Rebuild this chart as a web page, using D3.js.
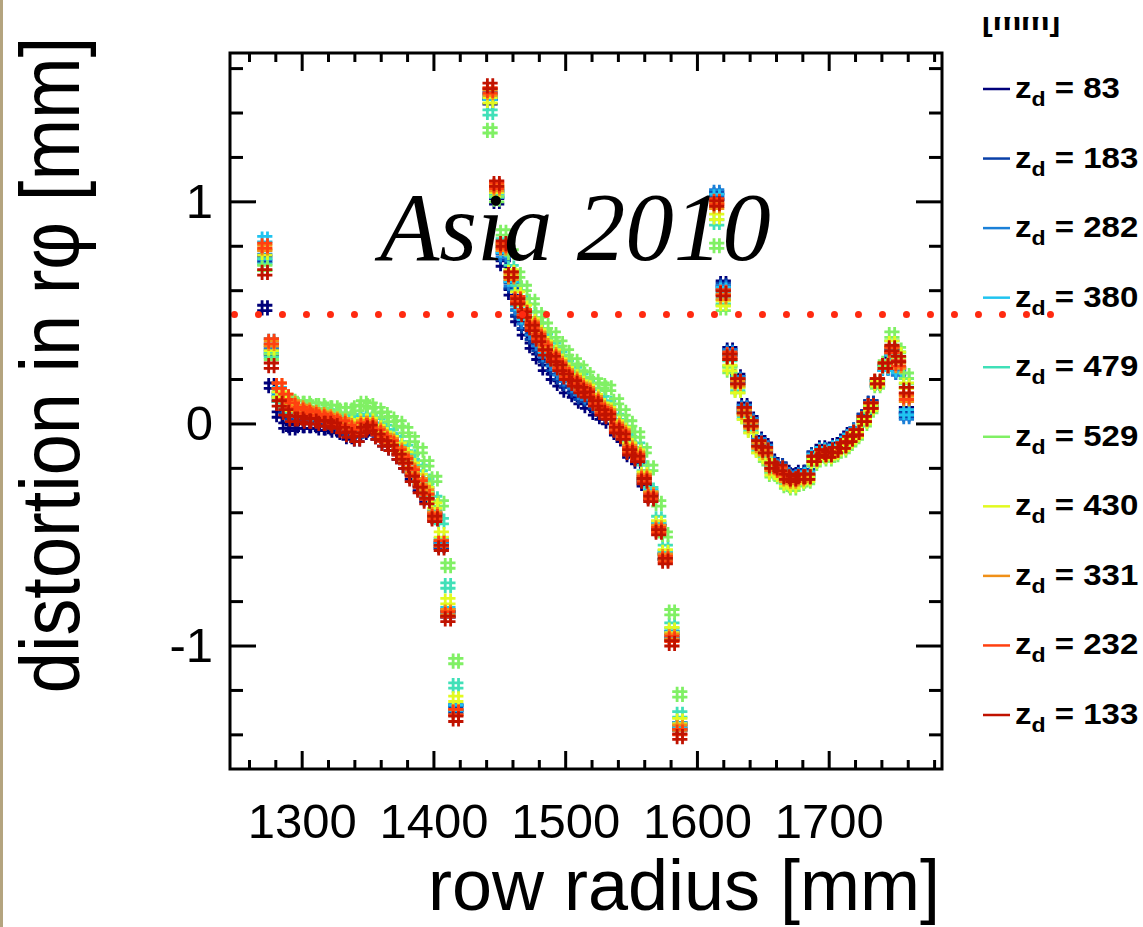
<!DOCTYPE html>
<html><head><meta charset="utf-8">
<script src="https://cdn.jsdelivr.net/npm/d3@7"></script>
<style>
html,body{margin:0;padding:0;background:#fff;}
svg{display:block;}
</style></head>
<body>
<svg id="chart" width="1143" height="927"></svg>
<script>
// ---------- data ----------
const zdLabels = [83, 183, 282, 380, 479, 529, 430, 331, 232, 133];
const seriesColors = ["#00007a", "#0a40a8", "#1a80d8", "#20c4f0", "#40e0b8", "#80f064", "#e2fa20", "#f09018", "#ff4010", "#c01200"];
const radii = [
 1272,1277,1283,1288,1293,1299,1304,1309,1315,1320,1325,1331,1336,1342,1347,1352,1358,1363,1368,1374,1379,1384,1390,1395,1401,1406,1411,1417,
 1443,1448,1453,1459,1464,1469,1475,1480,1485,1491,1496,1501,1507,1512,1517,1523,1528,1533,1539,1544,1549,1555,1560,1565,1571,1576,1581,1587,
 1615,1620,1625,1631,1636,1641,1647,1652,1657,1663,1668,1673,1679,1684,1689,1695,1700,1705,1711,1716,1721,1727,1732,1737,1743,1748,1753,1759];
const d83 = [
 0.52,0.17,0.04,-0.01,-0.02,-0.01,-0.01,-0.01,-0.02,-0.02,-0.03,-0.04,-0.06,-0.07,-0.04,-0.03,-0.06,-0.09,-0.11,-0.15,-0.19,-0.24,-0.29,-0.34,-0.42,-0.55,-0.86,-1.28,
 1.45,1.00,0.72,0.59,0.47,0.41,0.35,0.30,0.25,0.21,0.18,0.15,0.13,0.10,0.08,0.05,0.03,0.01,-0.04,-0.07,-0.14,-0.17,-0.27,-0.33,-0.47,-0.60,-0.95,-1.36,
 1.02,0.63,0.33,0.21,0.08,0.02,-0.07,-0.10,-0.17,-0.19,-0.22,-0.23,-0.22,-0.22,-0.14,-0.11,-0.12,-0.10,-0.08,-0.05,-0.03,0.03,0.09,0.18,0.25,0.31,0.24,0.06];
const d183 = [
 0.74,0.32,0.11,0.06,0.03,0.02,0.02,0.01,0.01,0.00,-0.01,-0.02,-0.04,-0.05,-0.02,-0.01,-0.04,-0.07,-0.09,-0.13,-0.17,-0.22,-0.27,-0.33,-0.42,-0.55,-0.86,-1.29,
 1.47,1.03,0.75,0.62,0.50,0.44,0.39,0.34,0.29,0.25,0.21,0.18,0.15,0.12,0.11,0.08,0.05,0.03,-0.03,-0.06,-0.13,-0.16,-0.26,-0.33,-0.47,-0.60,-0.96,-1.37,
 1.03,0.62,0.32,0.20,0.07,0.01,-0.08,-0.11,-0.18,-0.19,-0.23,-0.24,-0.23,-0.22,-0.14,-0.12,-0.13,-0.11,-0.09,-0.06,-0.03,0.03,0.09,0.18,0.25,0.32,0.23,0.04];
const d282 = [
 0.75,0.33,0.12,0.08,0.05,0.04,0.04,0.03,0.02,0.02,0.01,0.00,-0.02,-0.03,-0.01,0.00,-0.03,-0.06,-0.08,-0.12,-0.16,-0.21,-0.26,-0.32,-0.41,-0.54,-0.85,-1.28,
 1.48,1.04,0.76,0.63,0.52,0.46,0.41,0.36,0.31,0.27,0.23,0.20,0.17,0.14,0.12,0.09,0.06,0.04,-0.02,-0.05,-0.12,-0.15,-0.25,-0.32,-0.47,-0.60,-0.96,-1.37,
 1.04,0.61,0.32,0.20,0.07,0.01,-0.08,-0.11,-0.18,-0.20,-0.23,-0.24,-0.23,-0.23,-0.15,-0.12,-0.13,-0.11,-0.09,-0.06,-0.03,0.02,0.08,0.18,0.25,0.32,0.23,0.03];
const d380 = [
 0.83,0.37,0.15,0.11,0.08,0.07,0.06,0.05,0.05,0.04,0.03,0.02,0.01,0.00,0.02,0.02,-0.01,-0.04,-0.06,-0.10,-0.14,-0.19,-0.24,-0.30,-0.40,-0.53,-0.84,-1.28,
 1.47,1.04,0.78,0.65,0.54,0.48,0.43,0.38,0.33,0.29,0.25,0.22,0.19,0.16,0.14,0.10,0.07,0.05,-0.01,-0.04,-0.11,-0.14,-0.24,-0.31,-0.46,-0.59,-0.95,-1.36,
 1.02,0.60,0.31,0.19,0.06,0.00,-0.09,-0.12,-0.19,-0.20,-0.24,-0.25,-0.24,-0.23,-0.15,-0.12,-0.13,-0.11,-0.09,-0.06,-0.04,0.02,0.08,0.18,0.25,0.32,0.24,0.05];
const d479 = [
 0.73,0.31,0.11,0.08,0.06,0.06,0.06,0.05,0.05,0.05,0.04,0.03,0.02,0.01,0.03,0.03,0.01,-0.02,-0.04,-0.07,-0.11,-0.15,-0.20,-0.26,-0.34,-0.44,-0.73,-1.18,
 1.40,1.03,0.82,0.70,0.61,0.55,0.49,0.44,0.39,0.35,0.31,0.27,0.24,0.21,0.18,0.14,0.11,0.09,0.03,0.00,-0.07,-0.10,-0.20,-0.30,-0.43,-0.56,-0.91,-1.31,
 0.905,0.55,0.27,0.16,0.04,-0.02,-0.11,-0.14,-0.21,-0.22,-0.26,-0.27,-0.26,-0.25,-0.17,-0.14,-0.15,-0.13,-0.11,-0.08,-0.05,0.01,0.07,0.18,0.26,0.36,0.31,0.19];
const d529 = [
 0.70,0.30,0.13,0.11,0.10,0.09,0.09,0.08,0.08,0.07,0.07,0.06,0.06,0.07,0.09,0.08,0.06,0.04,0.02,0.00,-0.03,-0.07,-0.12,-0.18,-0.25,-0.36,-0.64,-1.07,
 1.32,1.01,0.86,0.77,0.67,0.61,0.55,0.49,0.44,0.40,0.36,0.32,0.28,0.25,0.22,0.19,0.17,0.16,0.10,0.05,0.00,-0.05,-0.12,-0.20,-0.36,-0.50,-0.85,-1.22,
 0.80,0.52,0.24,0.15,0.03,-0.03,-0.12,-0.16,-0.23,-0.24,-0.28,-0.29,-0.27,-0.26,-0.18,-0.15,-0.16,-0.14,-0.12,-0.09,-0.06,0.00,0.06,0.17,0.27,0.40,0.33,0.215];
const d430 = [
 0.77,0.34,0.13,0.09,0.07,0.06,0.05,0.04,0.04,0.03,0.02,0.01,0.00,-0.01,0.01,0.01,-0.02,-0.05,-0.07,-0.10,-0.14,-0.19,-0.24,-0.30,-0.37,-0.50,-0.80,-1.24,
 1.455,1.05,0.80,0.68,0.58,0.52,0.46,0.41,0.36,0.32,0.28,0.24,0.21,0.18,0.16,0.12,0.08,0.06,0.00,-0.03,-0.10,-0.13,-0.23,-0.32,-0.45,-0.58,-0.93,-1.34,
 0.93,0.54,0.25,0.15,0.03,-0.03,-0.12,-0.15,-0.22,-0.23,-0.27,-0.28,-0.26,-0.25,-0.17,-0.14,-0.15,-0.13,-0.11,-0.08,-0.05,0.01,0.07,0.18,0.26,0.36,0.31,0.17];
const d331 = [
 0.79,0.36,0.17,0.12,0.09,0.07,0.06,0.05,0.04,0.03,0.02,0.01,-0.01,-0.03,0.00,0.00,-0.03,-0.06,-0.08,-0.12,-0.16,-0.21,-0.26,-0.31,-0.41,-0.54,-0.85,-1.30,
 1.49,1.06,0.79,0.66,0.56,0.50,0.45,0.40,0.35,0.31,0.27,0.23,0.20,0.17,0.15,0.11,0.07,0.05,-0.01,-0.04,-0.11,-0.14,-0.24,-0.32,-0.47,-0.60,-0.96,-1.37,
 0.98,0.57,0.30,0.18,0.05,-0.01,-0.10,-0.13,-0.20,-0.21,-0.25,-0.26,-0.25,-0.24,-0.16,-0.13,-0.14,-0.12,-0.10,-0.07,-0.04,0.02,0.08,0.19,0.26,0.33,0.26,0.11];
const d232 = [
 0.80,0.37,0.17,0.12,0.08,0.06,0.05,0.04,0.03,0.02,0.01,0.00,-0.02,-0.04,-0.01,-0.01,-0.04,-0.07,-0.09,-0.13,-0.17,-0.22,-0.27,-0.33,-0.42,-0.54,-0.86,-1.30,
 1.50,1.07,0.80,0.67,0.56,0.50,0.44,0.39,0.34,0.30,0.26,0.22,0.19,0.16,0.14,0.10,0.06,0.04,-0.02,-0.05,-0.12,-0.15,-0.25,-0.33,-0.48,-0.61,-0.97,-1.39,
 1.00,0.59,0.31,0.19,0.06,0.00,-0.09,-0.12,-0.19,-0.21,-0.24,-0.25,-0.24,-0.24,-0.16,-0.13,-0.14,-0.12,-0.10,-0.07,-0.04,0.02,0.08,0.19,0.26,0.33,0.27,0.12];
const d133 = [
 0.68,0.26,0.09,0.05,0.02,0.02,0.01,0.01,0.00,0.00,-0.01,-0.03,-0.05,-0.07,-0.03,-0.02,-0.06,-0.09,-0.11,-0.15,-0.19,-0.25,-0.30,-0.35,-0.43,-0.56,-0.88,-1.33,
 1.52,1.08,0.81,0.67,0.55,0.49,0.43,0.38,0.32,0.29,0.25,0.21,0.18,0.15,0.13,0.09,0.05,0.03,-0.03,-0.06,-0.13,-0.16,-0.26,-0.34,-0.49,-0.62,-0.99,-1.41,
 0.99,0.585,0.30,0.19,0.06,0.00,-0.09,-0.12,-0.19,-0.20,-0.24,-0.25,-0.24,-0.24,-0.16,-0.13,-0.14,-0.12,-0.10,-0.07,-0.04,0.02,0.08,0.19,0.26,0.34,0.29,0.15];
const seriesValues = [d83, d183, d282, d380, d479, d529, d430, d331, d232, d133];

const xTickValues = [1300, 1400, 1500, 1600, 1700];
const xTickLabels = ["1300", "1400", "1500", "1600", "1700"];
const yTickValues = [-1, 0, 1];
const yTickLabels = ["-1", "0", "1"];
const xMinorTicks = [1260,1280,1320,1340,1360,1380,1420,1440,1460,1480,1520,1540,1560,1580,1620,1640,1660,1680,1720,1740,1760,1780];
const yMinorTicks = [-1.4,-1.2,-0.8,-0.6,-0.4,-0.2,0.2,0.4,0.6,0.8,1.2,1.4,1.6];
const refLineValue = 0.49;
const refLineRange = [1249, 1870];
const titleText = "Asia 2010";
const xTitle = "row radius [mm]";
const yTitle = "distortion in r\u03C6 [mm]";
const legendHeader = "[mm]";

// ---------- layout ----------
const svg = d3.select("#chart");
const frame = {left: 230, right: 942, top: 53, bottom: 769};
const x = d3.scaleLinear().domain([1245.6, 1786]).range([frame.left, frame.right]);
const y = d3.scaleLinear().domain([-1.556, 1.668]).range([frame.bottom, frame.top]);
const sans = "'Liberation Sans', Arial, Helvetica, sans-serif";

// tan strip at left edge
svg.append("rect").attr("x", 0).attr("y", 0).attr("width", 3).attr("height", 927).attr("fill", "#b4a47f");

// markers ("#"-like plus)
const hashSymbol = {
  draw(ctx, size) {
    const h = 7.6, o = 2.7;
    ctx.moveTo(-o, -h); ctx.lineTo(-o, h);
    ctx.moveTo(o, -h); ctx.lineTo(o, h);
    ctx.moveTo(-h, -o); ctx.lineTo(h, -o);
    ctx.moveTo(-h, o); ctx.lineTo(h, o);
  }
};
const sym = d3.symbol().type(hashSymbol).size(64);

const plot = svg.append("g");
seriesValues.forEach((vals, si) => {
  plot.append("g").selectAll("path")
    .data(vals.map((v, i) => ({r: radii[i], v})))
    .join("path")
    .attr("d", sym)
    .attr("transform", d => `translate(${x(d.r)},${y(d.v)})`)
    .attr("fill", "none")
    .attr("stroke", seriesColors[si])
    .attr("stroke-width", 2.8);
});

// title
svg.append("text").attr("x", 380).attr("y", 260)
  .attr("font-family", "'Liberation Serif', 'Times New Roman', serif")
  .attr("font-style", "italic").attr("font-size", 97).attr("fill", "#000")
  .text(titleText);

// dotted reference line
svg.append("line")
  .attr("x1", x(refLineRange[0])).attr("x2", x(refLineRange[1]))
  .attr("y1", y(refLineValue)).attr("y2", y(refLineValue))
  .attr("stroke", "#ff2a10").attr("stroke-width", 7)
  .attr("stroke-linecap", "round").attr("stroke-dasharray", "0 24");

// axes
function styleAxis(g) {
  g.select(".domain").remove();
  g.selectAll(".tick line").attr("stroke", "#000").attr("stroke-width", 3);
  g.selectAll("text").attr("font-family", sans).attr("font-size", 49).attr("fill", "#000");
}
svg.append("g").attr("transform", `translate(0,${frame.bottom})`)
  .call(d3.axisBottom(x).tickValues(xTickValues).tickFormat((d, i) => xTickLabels[i]).tickSize(-18).tickSizeOuter(0).tickPadding(34))
  .call(styleAxis);
svg.append("g").attr("transform", `translate(0,${frame.bottom})`)
  .call(d3.axisBottom(x).tickValues(xMinorTicks).tickFormat("").tickSize(-9).tickSizeOuter(0))
  .call(styleAxis);
svg.append("g").attr("transform", `translate(0,${frame.top})`)
  .call(d3.axisTop(x).tickValues(xTickValues).tickFormat("").tickSize(-18).tickSizeOuter(0))
  .call(styleAxis);
svg.append("g").attr("transform", `translate(0,${frame.top})`)
  .call(d3.axisTop(x).tickValues(xMinorTicks).tickFormat("").tickSize(-9).tickSizeOuter(0))
  .call(styleAxis);
svg.append("g").attr("transform", `translate(${frame.left},0)`)
  .call(d3.axisLeft(y).tickValues(yTickValues).tickFormat((d, i) => yTickLabels[i]).tickSize(-26).tickSizeOuter(0).tickPadding(17))
  .call(styleAxis);
svg.append("g").attr("transform", `translate(${frame.left},0)`)
  .call(d3.axisLeft(y).tickValues(yMinorTicks).tickFormat("").tickSize(-13).tickSizeOuter(0))
  .call(styleAxis);
svg.append("g").attr("transform", `translate(${frame.right},0)`)
  .call(d3.axisRight(y).tickValues(yTickValues).tickFormat("").tickSize(-26).tickSizeOuter(0))
  .call(styleAxis);
svg.append("g").attr("transform", `translate(${frame.right},0)`)
  .call(d3.axisRight(y).tickValues(yMinorTicks).tickFormat("").tickSize(-13).tickSizeOuter(0))
  .call(styleAxis);

// frame
svg.append("rect").attr("x", frame.left).attr("y", frame.top)
  .attr("width", frame.right - frame.left).attr("height", frame.bottom - frame.top)
  .attr("fill", "none").attr("stroke", "#000").attr("stroke-width", 3);

// axis titles
svg.append("text").attr("x", 940).attr("y", 910).attr("text-anchor", "end")
  .attr("font-family", sans).attr("font-size", 72).attr("fill", "#000").text(xTitle);
svg.append("text").attr("transform", "translate(79,365) rotate(-90) scale(1,1.12)").attr("text-anchor", "middle")
  .attr("font-family", sans).attr("font-size", 74).attr("fill", "#000").text(yTitle);

// legend
svg.append("clipPath").attr("id", "hdrclip").append("rect")
  .attr("x", 970).attr("y", 17).attr("width", 160).attr("height", 30);
svg.append("g").attr("clip-path", "url(#hdrclip)")
  .append("text")
  .attr("x", 982).attr("y", 30)
  .attr("font-family", sans).attr("font-weight", "bold").attr("font-size", 32).attr("fill", "#000")
  .text(legendHeader);

const legendY = d3.scaleLinear().domain([0, zdLabels.length - 1]).range([89, 715]);
const lg = svg.append("g");
zdLabels.forEach((z, i) => {
  const yy = legendY(i);
  lg.append("line").attr("x1", 983).attr("x2", 1010).attr("y1", yy).attr("y2", yy)
    .attr("stroke", seriesColors[i]).attr("stroke-width", 2.5);
  const t = lg.append("text").attr("transform", `translate(1015,${yy + 9}) scale(1.1,1)`)
    .attr("font-family", sans).attr("font-weight", "bold").attr("font-size", 30).attr("fill", "#000");
  t.append("tspan").text("z");
  t.append("tspan").attr("dy", 8).attr("font-size", 21).text("d");
  t.append("tspan").attr("dy", -8).text("\u00A0=\u00A0" + z);
});
</script>
</body></html>
